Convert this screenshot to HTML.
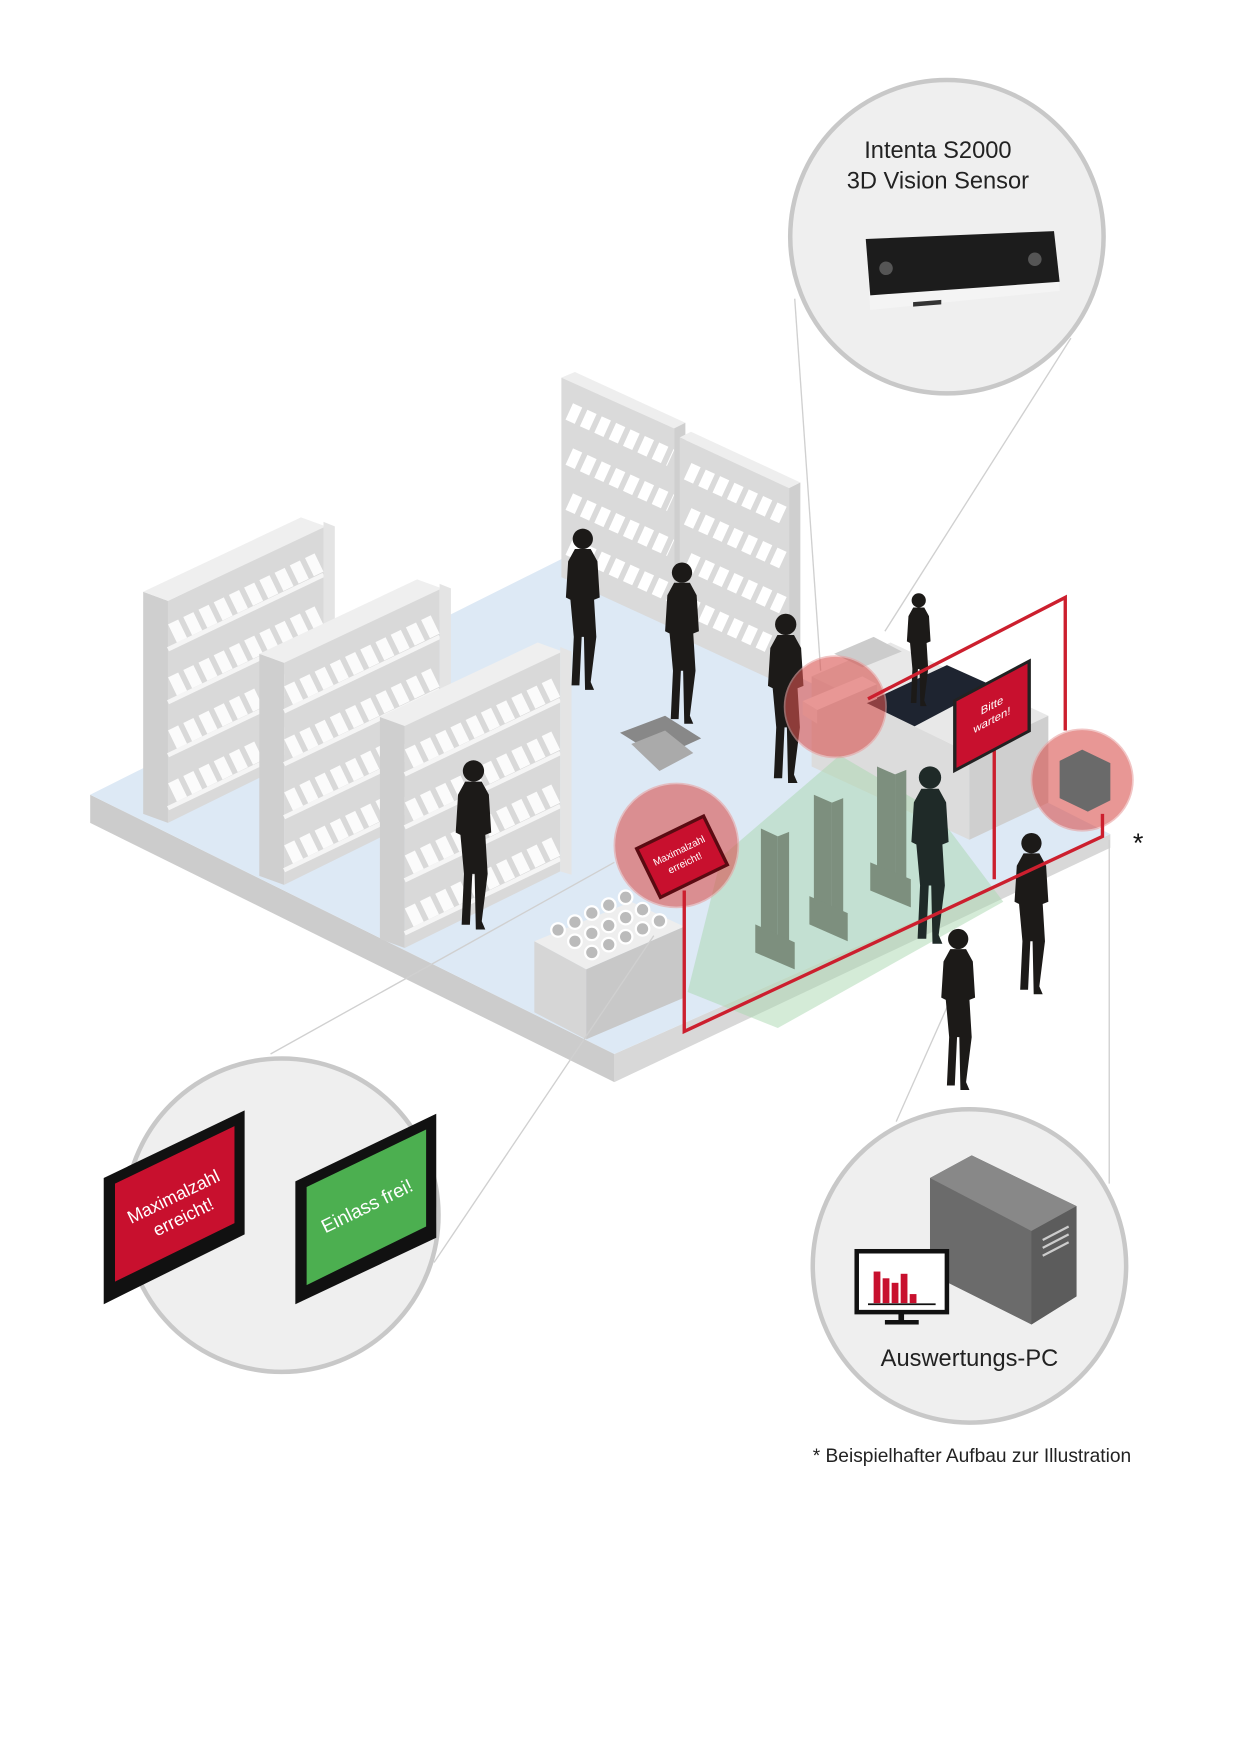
<!DOCTYPE html>
<html><head><meta charset="utf-8"><style>
html,body{margin:0;padding:0;background:#fff;width:1240px;height:1754px;overflow:hidden}
svg{display:block}
text{font-family:"Liberation Sans",sans-serif}
</style></head><body>
<svg width="1240" height="1754" viewBox="0 0 1100 1556" xmlns="http://www.w3.org/2000/svg">
<defs>
<g id="shelf">
  <polygon points="0,0 22,8 22,205 0,197" fill="#cfcfcf"/>
  <polygon points="22,8 160,-58 160,137 22,205" fill="#d9d9d9"/>
  <g stroke="#fff" stroke-width="18" stroke-dasharray="10 5" opacity="0.9">
    <line x1="26" y1="37" x2="156" y2="-26"/>
    <line x1="26" y1="84" x2="156" y2="21"/>
    <line x1="26" y1="131" x2="156" y2="68"/>
    <line x1="26" y1="178" x2="156" y2="115"/>
  </g>
  <g stroke="#f5f5f5" stroke-width="4">
    <line x1="22" y1="51" x2="160" y2="-15"/>
    <line x1="22" y1="98" x2="160" y2="32"/>
    <line x1="22" y1="145" x2="160" y2="79"/>
    <line x1="22" y1="192" x2="160" y2="126"/>
  </g>
  <polygon points="0,0 140,-66 162,-58 22,8" fill="#efefef"/>
  <polygon points="160,-62 170,-58 170,140 160,137" fill="#e4e4e4"/>
</g>
<g id="person">
  <circle cx="0" cy="-82" r="9"/>
  <path d="M-7,-73 L7,-73 L13,-62 L15,-30 L10,-28 L12,5 L7,45 L10,52 L2,52 L1,5 L-1,5 L-3,48 L-10,48 L-8,5 L-11,-28 L-15,-30 L-13,-62 Z"/>
</g>
</defs>

<!-- floor -->
<polygon points="80,705 545,935 545,960 80,730" fill="#cccccc"/>
<polygon points="545,935 985,740 985,752 545,960" fill="#d8d8d8"/>
<polygon points="80,705 500,495 985,740 545,935" fill="#dde9f5"/>

<!-- back shelves -->
<g>
  <polygon points="498,335 510,330 608,375 598,380" fill="#eee"/>
  <polygon points="498,335 598,380 598,558 498,512" fill="#dadada"/>
  <g stroke="#fff" stroke-width="16" stroke-dasharray="9 5"><line x1="505" y1="365" x2="595" y2="406"/><line x1="505" y1="405" x2="595" y2="446"/><line x1="505" y1="445" x2="595" y2="486"/><line x1="505" y1="485" x2="595" y2="526"/></g>
  <polygon points="598,380 608,375 608,553 598,558" fill="#cfcfcf"/>
  <polygon points="603,388 613,383 710,428 700,433" fill="#eee"/>
  <polygon points="603,388 700,433 700,610 603,565" fill="#dadada"/>
  <g stroke="#fff" stroke-width="16" stroke-dasharray="9 5"><line x1="610" y1="418" x2="697" y2="458"/><line x1="610" y1="458" x2="697" y2="498"/><line x1="610" y1="498" x2="697" y2="538"/><line x1="610" y1="538" x2="697" y2="578"/></g>
  <polygon points="700,433 710,428 710,605 700,610" fill="#cfcfcf"/>
</g>

<!-- left shelves -->
<use href="#shelf" transform="translate(127,525)"/>
<use href="#shelf" transform="translate(230,580)"/>
<use href="#shelf" transform="translate(337,636)"/>

<!-- counter -->
<polygon points="720,600 790,570 930,635 860,668" fill="#e8e8e8"/>
<polygon points="765,625 840,590 880,608 810,645" fill="#1e2430"/>
<polygon points="720,600 860,668 860,745 720,680" fill="#dcdcdc"/>
<polygon points="860,668 930,635 930,712 860,745" fill="#cfcfcf"/>
<polygon points="740,580 775,565 800,578 765,592" fill="#ccc"/>

<!-- green cone -->
<polygon points="745,670 640,760 610,880 690,912 890,800 830,720" fill="#a9d8b0" opacity="0.5"/>

<!-- gates -->
<g fill="#7d8f7e">
  <polygon points="675,735 690,742 690,850 675,843"/><polygon points="690,742 700,738 700,846 690,850"/>
  <polygon points="670,820 705,836 705,860 670,845"/>
  <polygon points="722,705 738,712 738,825 722,818"/><polygon points="738,712 748,708 748,820 738,825"/>
  <polygon points="718,795 752,810 752,835 718,820"/>
  <polygon points="778,680 794,687 794,795 778,788"/><polygon points="794,687 804,683 804,790 794,795"/>
  <polygon points="772,765 808,780 808,805 772,790"/>
</g>

<!-- bottle box -->
<polygon points="474,835 560,800 607,822 520,860" fill="#eee"/>
<polygon points="474,835 520,860 520,922 474,898" fill="#d6d6d6"/>
<polygon points="520,860 607,822 607,885 520,922" fill="#c8c8c8"/>
<g fill="#bbb" stroke="#fff" stroke-width="2">
  <circle cx="495" cy="825" r="6"/><circle cx="510" cy="818" r="6"/><circle cx="525" cy="810" r="6"/><circle cx="540" cy="803" r="6"/><circle cx="555" cy="796" r="6"/>
  <circle cx="510" cy="835" r="6"/><circle cx="525" cy="828" r="6"/><circle cx="540" cy="821" r="6"/><circle cx="555" cy="814" r="6"/><circle cx="570" cy="807" r="6"/>
  <circle cx="525" cy="845" r="6"/><circle cx="540" cy="838" r="6"/><circle cx="555" cy="831" r="6"/><circle cx="570" cy="824" r="6"/><circle cx="585" cy="817" r="6"/>
</g>

<!-- basket -->
<polygon points="550,650 590,635 622,655 585,672" fill="#888"/>
<polygon points="560,660 585,684 615,668 590,648" fill="#aaa"/>

<!-- connector lines -->
<g stroke="#d0d0d0" stroke-width="1.2" fill="none">
  <line x1="705" y1="265" x2="728" y2="595"/>
  <line x1="950" y1="300" x2="785" y2="560"/>
  <line x1="240" y1="935" x2="545" y2="765"/>
  <line x1="385" y1="1120" x2="580" y2="830"/>
  <line x1="795" y1="995" x2="855" y2="860"/>
  <line x1="984" y1="1050" x2="984" y2="745"/>
</g>

<!-- people -->
<g fill="#1c1a18">
  <use href="#person" transform="translate(517,560)"/>
  <use href="#person" transform="translate(605,590)"/>
  <use href="#person" transform="translate(697,640) scale(1.05)"/>
  <use href="#person" transform="translate(420,770) scale(1.05)"/>
  <use href="#person" transform="translate(915,830)"/>
  <use href="#person" transform="translate(850,915)"/>
  <use href="#person" transform="translate(815,590) scale(0.7)"/>
</g>
<g fill="#1f2a28"><use href="#person" transform="translate(825,780) scale(1.1)"/></g>

<!-- sensor box on counter -->
<polygon points="712,622 765,600 778,607 725,630" fill="#fff"/>
<polygon points="712,622 725,630 725,642 712,634" fill="#eee"/>
<polygon points="725,630 778,607 778,620 725,642" fill="#ddd"/>

<!-- red circles -->
<g fill="#d9534f" opacity="0.6" stroke="#e8a0a0" stroke-width="1.5">
  <circle cx="741" cy="627" r="45"/>
  <circle cx="600" cy="750" r="55"/>
  <circle cx="960" cy="692" r="45"/>
</g>
<polygon points="940,675 960,665 985,677 985,710 965,720 940,708" fill="#6a6a6a"/>

<!-- red frame lines -->
<g stroke="#cc1f2e" stroke-width="3" fill="none">
  <polyline points="607,790 607,915 978,742 978,722"/>
  <polyline points="770,620 945,530 945,648"/>
  <line x1="882" y1="640" x2="882" y2="780"/>
</g>

<!-- signs -->
<g transform="translate(605,760) rotate(-26)">
  <rect x="-33" y="-24" width="66" height="48" fill="#c8102e" stroke="#5a0b12" stroke-width="3"/>
  <text x="0" y="-3" font-size="9" fill="#fff" text-anchor="middle">Maximalzahl</text>
  <text x="0" y="9" font-size="9" fill="#fff" text-anchor="middle">erreicht!</text>
</g>
<g transform="translate(880,624) skewY(-28)">
  <rect x="-33" y="-20" width="66" height="62" fill="#c8102e" stroke="#222" stroke-width="3"/>
  <text x="0" y="5" font-size="10" fill="#fff" text-anchor="middle">Bitte</text>
  <text x="0" y="18" font-size="10" fill="#fff" text-anchor="middle">warten!</text>
</g>
<text x="1005" y="756" font-size="24" fill="#111">*</text>

<!-- top circle -->
<circle cx="840" cy="210" r="139" fill="#efefef" stroke="#c8c8c8" stroke-width="4"/>
<text x="832" y="140" font-size="21" fill="#222" text-anchor="middle">Intenta S2000</text>
<text x="832" y="167" font-size="21" fill="#222" text-anchor="middle">3D Vision Sensor</text>
<polygon points="768,212 935,205 940,258 772,275" fill="#f4f4f4"/>
<polygon points="768,212 935,205 940,250 772,262" fill="#1c1c1c"/>
<circle cx="786" cy="238" r="6" fill="#555"/><circle cx="918" cy="230" r="6" fill="#555"/>
<polygon points="810,268 835,266 835,270 810,272" fill="#333"/>

<!-- bottom left circle -->
<circle cx="250" cy="1078" r="139" fill="#efefef" stroke="#c8c8c8" stroke-width="4"/>
<polygon points="92,1045 217,985 217,1095 92,1157" fill="#111"/>
<polygon points="102,1050 208,999 208,1085 102,1137" fill="#c8102e"/>
<polygon points="262,1048 387,988 387,1098 262,1157" fill="#111"/>
<polygon points="272,1053 378,1002 378,1088 272,1140" fill="#4caf50"/>
<g transform="translate(158,1070) rotate(-26)">
  <text x="0" y="-4" font-size="16" fill="#fff" text-anchor="middle">Maximalzahl</text>
  <text x="0" y="16" font-size="16" fill="#fff" text-anchor="middle">erreicht!</text>
</g>
<text transform="translate(328,1075) rotate(-26)" font-size="17" fill="#fff" text-anchor="middle">Einlass frei!</text>

<!-- bottom right circle -->
<circle cx="860" cy="1123" r="139" fill="#efefef" stroke="#c8c8c8" stroke-width="4"/>
<polygon points="825,1045 862,1025 955,1070 955,1150 915,1175 825,1130" fill="#6b6b6b"/>
<polygon points="825,1045 862,1025 955,1070 915,1092" fill="#888"/>
<polygon points="915,1092 955,1070 955,1150 915,1175" fill="#5c5c5c"/>
<g stroke="#ccc" stroke-width="2"><line x1="925" y1="1100" x2="948" y2="1088"/><line x1="925" y1="1107" x2="948" y2="1095"/><line x1="925" y1="1114" x2="948" y2="1102"/></g>
<rect x="760" y="1110" width="80" height="54" fill="#fff" stroke="#111" stroke-width="4"/>
<g fill="#c8102e"><rect x="775" y="1128" width="6" height="28"/><rect x="783" y="1134" width="6" height="22"/><rect x="791" y="1138" width="6" height="18"/><rect x="799" y="1130" width="6" height="26"/><rect x="807" y="1148" width="6" height="8"/></g>
<line x1="770" y1="1157" x2="830" y2="1157" stroke="#111" stroke-width="1.5"/>
<rect x="797" y="1164" width="5" height="8" fill="#111"/><rect x="785" y="1171" width="30" height="4" fill="#111"/>
<text x="860" y="1212" font-size="21" fill="#222" text-anchor="middle">Auswertungs-PC</text>

<text x="721" y="1297" font-size="17" fill="#222">* Beispielhafter Aufbau zur Illustration</text>
</svg>
</body></html>
